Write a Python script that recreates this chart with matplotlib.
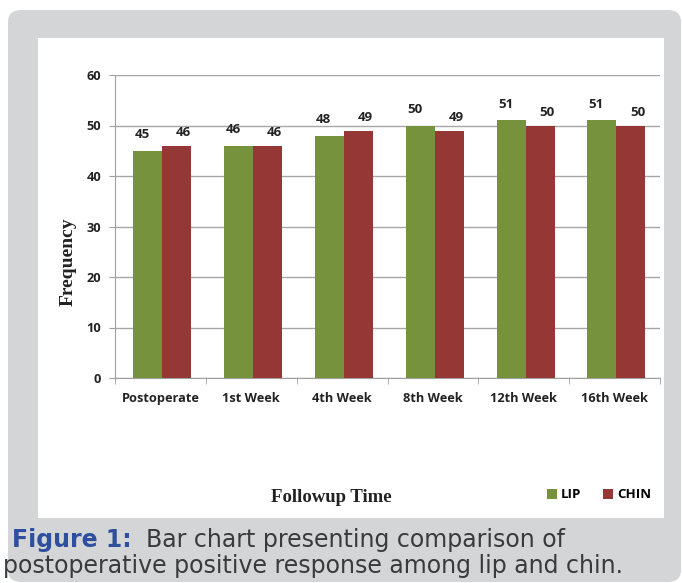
import matplotlib
matplotlib.use("Agg")
import matplotlib.pyplot as plt
import numpy as np
from matplotlib.patches import FancyBboxPatch, Rectangle

categories = ["Postoperate", "1st Week", "4th Week", "8th Week", "12th Week", "16th Week"]
lip = [45, 46, 48, 50, 51, 51]
chin = [46, 46, 49, 49, 50, 50]
yticks = [0, 10, 20, 30, 40, 50, 60]

W, H = 682, 583
fig = plt.figure(figsize=(W / 100, H / 100), dpi=100)
fig.patch.set_facecolor("white")

def fx(x): return x / W
def fy(y): return 1 - y / H

# grey rounded panel
gray = "#d4d5d7"
fig.patches.append(FancyBboxPatch((fx(8) + 0.02, fy(582) + 0.02), fx(673) - 0.04, (572 / H) - 0.04,
                                  boxstyle="round,pad=0.02,rounding_size=0.02",
                                  transform=fig.transFigure, facecolor=gray, edgecolor="none", zorder=0))
# white inner panel
fig.patches.append(Rectangle((fx(38), fy(518)), fx(626), 480 / H, transform=fig.transFigure,
                             facecolor="white", edgecolor="none", zorder=1))

ax = fig.add_axes([fx(115), fy(378), fx(545), 303 / H])
ax.set_zorder(2)
ax.patch.set_alpha(0)

x = np.arange(len(categories))
bw = 0.32
green = "#76923c"
red = "#953735"
b1 = ax.bar(x - bw / 2 + 0.02, lip, bw, color=green, label="LIP", zorder=3)
b2 = ax.bar(x + bw / 2 + 0.02, chin, bw, color=red, label="CHIN", zorder=3)

lab_font = dict(family="Open Sans", fontsize=9.5, fontweight="bold", color="#222222")
for rect, v in zip(b1, lip):
    ax.annotate(str(v), (rect.get_x() + rect.get_width() / 2, v), xytext=(-4, 7),
                textcoords="offset points", ha="center", va="bottom", **lab_font)
for rect, v in zip(b2, chin):
    ax.annotate(str(v), (rect.get_x() + rect.get_width() / 2, v), xytext=(5, 5),
                textcoords="offset points", ha="center", va="bottom", **lab_font)

tick_font = dict(family="Open Sans", fontsize=9.2, fontweight="bold", color="#222222")
ax.set_xlim(-0.5, len(categories) - 0.5)
ax.set_ylim(0, 60)
ax.set_yticks(yticks)
ax.set_yticklabels([str(t) for t in yticks], **tick_font)
ax.set_xticks(x)
ax.set_xticklabels(categories, **tick_font)
ax.set_xticks(np.arange(len(categories) + 1) - 0.5, minor=True)
ax.tick_params(axis="x", which="major", length=0, pad=10)
ax.tick_params(axis="x", which="minor", length=4, color="#a0a0a0")
ax.tick_params(axis="y", length=4, color="#a0a0a0", pad=6)
ax.grid(axis="y", color="#a6a6a6", linewidth=1, zorder=0)
for s in ["top", "right"]:
    ax.spines[s].set_visible(False)
for s in ["left", "bottom"]:
    ax.spines[s].set_color("#a0a0a0")

fig.text(fx(68), fy(262), "Frequency", rotation=90, ha="center", va="center",
         family="Liberation Serif", fontweight="bold", fontsize=14, color="#222222", zorder=5)
fig.text(fx(331), fy(497), "Followup Time", ha="center", va="center",
         family="Liberation Serif", fontweight="bold", fontsize=13.5, color="#222222", zorder=5)

leg = fig.legend(handles=[b1, b2], labels=["LIP", "CHIN"], loc="center", bbox_to_anchor=(fx(599), fy(495)),
                 ncol=2, frameon=False, handlelength=0.75, handleheight=0.75, handletextpad=0.35,
                 columnspacing=1.6, prop=dict(family="Open Sans", weight="bold", size=9.5))

cap = dict(family="DejaVu Sans", fontsize=17, zorder=5, va="center", ha="left")
fig.text(fx(12), fy(540), "Figure 1:", fontweight="bold", color="#2e4f9e", **cap)
fig.text(fx(146), fy(540), "Bar chart presenting comparison of", color="#3a3a3a", **cap)
fig.text(fx(3), fy(566), "postoperative positive response among lip and chin.", color="#3a3a3a", **cap)

fig.savefig("out.png", dpi=100)
